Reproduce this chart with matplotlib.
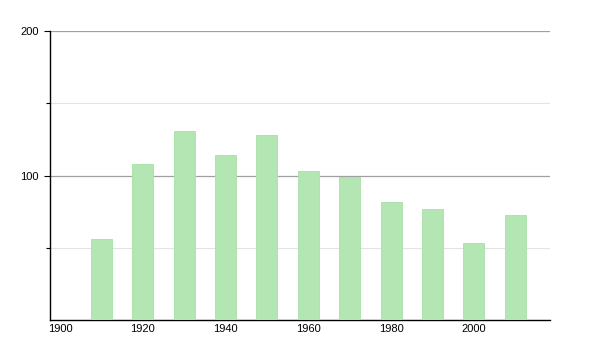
import matplotlib
matplotlib.use('Agg')
import matplotlib.pyplot as plt

# Datos
anios = [1910, 1920, 1930, 1940, 1950, 1960, 1970, 1980, 1990, 2000, 2010]
valores = [56, 108, 131, 114, 128, 103, 99, 82, 77, 53, 73]
ticks_x = [1900, 1920, 1940, 1960, 1980, 2000]
ticks_y = [100, 200]
ticks_y_menor = [50, 150]

plt.rcParams['font.family'] = ['Liberation Sans', 'DejaVu Sans']

fig = plt.figure(figsize=(6, 3.5), dpi=100)
ax = fig.add_axes([50/600, 30/350, 500/600, 289/350])

ax.bar(anios, valores, width=5.1, color='#b3e6b3', edgecolor='#a9dfa9', linewidth=0.6, zorder=3)

for y in ticks_y:
    ax.axhline(y, color='#a0a0a0', linewidth=0.9, zorder=1)
for y in ticks_y_menor:
    ax.axhline(y, color='#e3e3e3', linewidth=0.8, zorder=1)

ax.set_xlim(1897.6, 2018.4)
ax.set_ylim(0, 200)
ax.set_xticks(ticks_x)
ax.set_xticklabels([str(t) for t in ticks_x])
ax.set_yticks(ticks_y)
ax.set_yticklabels([str(t) for t in ticks_y])
ax.set_yticks(ticks_y_menor, minor=True)

for s in ['top', 'right']:
    ax.spines[s].set_visible(False)
ax.spines['left'].set_linewidth(1.0)
ax.spines['bottom'].set_linewidth(1.0)

ax.tick_params(axis='x', length=0, pad=3, labelsize=8)
ax.tick_params(axis='y', which='major', length=4, width=0.8, pad=4, labelsize=8)
ax.tick_params(axis='y', which='minor', length=3, width=0.8)

fig.savefig('out.png', dpi=100)
